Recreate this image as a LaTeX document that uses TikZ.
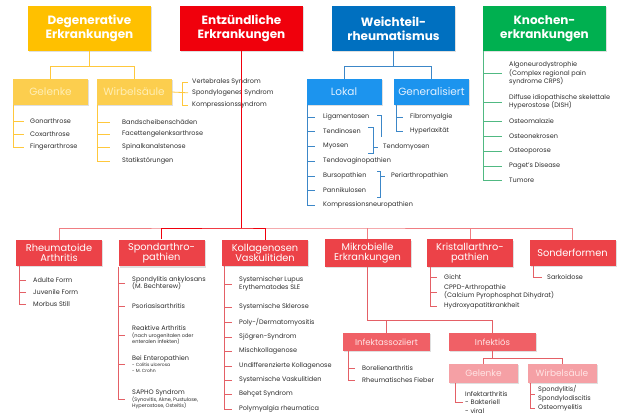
\documentclass[tikz,border=0pt]{standalone}
\usepackage{fontspec}
\setmainfont{Poppins}
\usetikzlibrary{shadows}

\definecolor{gelbdunkel}{RGB}{255,192,0}
\definecolor{gelbhell}{RGB}{252,206,78}
\definecolor{gelbtext}{RGB}{255,238,180}
\definecolor{gelblinie}{RGB}{255,200,60}
\definecolor{rotdunkel}{RGB}{240,0,12}
\definecolor{rotbox}{RGB}{236,66,72}
\definecolor{rotmittel}{RGB}{240,96,102}
\definecolor{rothell}{RGB}{245,160,165}
\definecolor{rottext}{RGB}{255,228,228}
\definecolor{rotlinie}{RGB}{228,96,102}
\definecolor{rotbalken}{RGB}{240,125,130}
\definecolor{blaudunkel}{RGB}{0,112,192}
\definecolor{blauhell}{RGB}{28,148,238}
\definecolor{blautext}{RGB}{225,240,255}
\definecolor{blaulinie}{RGB}{60,135,200}
\definecolor{gruen}{RGB}{0,176,80}
\definecolor{gruenlinie}{RGB}{80,185,130}
\definecolor{textgrau}{RGB}{45,45,45}

\newcommand{\kleinschrift}{\fontsize{5}{6}\selectfont}
\newcommand{\kleinerschrift}{\fontsize{4.5}{5.5}\selectfont}

\begin{document}
\begin{tikzpicture}[x=1pt, y=-1pt,
    schatten/.style={drop shadow={shadow xshift=1pt, shadow yshift=-1.2pt, opacity=0.25}},
    haupt/.style={schatten, minimum width=123pt, minimum height=45pt, text=white, align=center, font=\fontsize{12}{14}\selectfont\bfseries},
    unter/.style={schatten, minimum width=75pt, minimum height=26pt, font=\fontsize{10.5}{12}\selectfont},
    kat/.style={schatten, fill=rotbox, minimum width=86pt, minimum height=26pt, text=white, align=center, font=\fontsize{9.8}{10.5}\selectfont},
    infekt/.style={schatten, fill=rotmittel, minimum width=87pt, minimum height=18pt, text=rottext, font=\fontsize{8.5}{10}\selectfont},
    infektunter/.style={schatten, fill=rothell, minimum width=69pt, minimum height=19pt, text=rottext, font=\fontsize{9}{10}\selectfont},
    eintrag/.style={anchor=west, inner sep=0pt, align=left, text=textgrau, font=\fontsize{6.5}{8.5}\selectfont},
    gl/.style={draw=gelblinie, line width=0.8pt},
    bl/.style={draw=blaulinie, line width=0.7pt},
    grl/.style={draw=gruenlinie, line width=0.7pt},
    rl/.style={draw=rotlinie, line width=0.7pt},
    rlhell/.style={draw=rotbalken, line width=0.8pt},
    rldunkel/.style={draw=rotdunkel, line width=0.8pt}]

    \fill[white] (0,0) rectangle (629,418);
    \useasboundingbox (0,0) rectangle (629,418);

    % Knoten
    \node[haupt, fill=gelbdunkel] (deg) at (89.5,28.5) {Degenerative\\Erkrankungen};
    \node[haupt, fill=rotdunkel] (entz) at (241.5,28.5) {Entzündliche\\Erkrankungen};
    \node[haupt, fill=blaudunkel] (weich) at (393.5,28.5) {Weichteil-\\rheumatismus};
    \node[haupt, fill=gruen] (kno) at (544.5,28.5) {Knochen-\\erkrankungen};

    \node[unter, fill=gelbhell, text=gelbtext] (gel) at (50.5,92) {Gelenke};
    \node[unter, fill=gelbhell, text=gelbtext] (wir) at (134,92) {Wirbelsäule};
    \node[unter, fill=blauhell, text=blautext] (lok) at (344,92) {Lokal};
    \node[unter, fill=blauhell, text=blautext] (gen) at (431.5,92) {Generalisiert};

    \node[kat] (rhe) at (59,253) {Rheumatoide\\Arthritis};
    \node[kat] (spo) at (161.5,253) {Spondarthro-\\pathien};
    \node[kat] (kol) at (265,253) {Kollagenosen\\Vaskulitiden};
    \node[kat] (mik) at (367.5,253) {Mikrobielle\\Erkrankungen};
    \node[kat] (kri) at (470,253) {Kristallarthro-\\pathien};
    \node[kat] (son) at (572.5,253) {Sonderformen};

    \node[infekt] (ias) at (386.5,342) {Infektassoziiert};
    \node[infekt] (ifs) at (492.5,342) {Infektiös};
    \node[infektunter] (igl) at (483.5,373.5) {Gelenke};
    \node[infektunter] (iwi) at (562,373.5) {Wirbelsäule};

    % Eintraege
    \node[eintrag] (gon) at (30,121) {Gonarthrose};
    \node[eintrag] (cox) at (30,134) {Coxarthrose};
    \node[eintrag] (fin) at (30,147) {Fingerarthrose};

    \node[eintrag] (ban) at (122,122) {Bandscheibenschäden};
    \node[eintrag] (fac) at (122,134) {Facettengelenksarthrose};
    \node[eintrag] (spi) at (122,147) {Spinalkanalstenose};
    \node[eintrag] (sta) at (122,161) {Statikstörungen};

    \node[eintrag] (ver) at (192,82) {Vertebrales Syndrom};
    \node[eintrag] (spg) at (192,93) {Spondylogenes Syndrom};
    \node[eintrag] (kom) at (192,105) {Kompressionssyndrom};

    \node[eintrag] (lig) at (323,117) {Ligamentosen};
    \node[eintrag] (ten) at (323,131) {Tendinosen};
    \node[eintrag] (myo) at (323,146) {Myosen};
    \node[eintrag] (tva) at (323,161) {Tendovaginopathien};
    \node[eintrag] (bur) at (323,176) {Bursopathien};
    \node[eintrag] (pan) at (323,190) {Pannikulosen};
    \node[eintrag] (kne) at (323,205) {Kompressionsneuropathien};
    \node[eintrag] (tmy) at (383,147) {Tendomyosen};
    \node[eintrag] (per) at (391,176) {Periarthropathien};

    \node[eintrag] (fib) at (410,117) {Fibromyalgie};
    \node[eintrag] (hyp) at (410,131) {Hyperlaxität};

    \node[eintrag] (alg) at (509,73.5) {Algoneurodystrophie\\(Complex regional pain\\syndrome CRPS)};
    \node[eintrag] (dis) at (509,102) {Diffuse idiopathische skelettale\\Hyperostose (DISH)};
    \node[eintrag] (oma) at (509,121) {Osteomalazie};
    \node[eintrag] (one) at (509,136) {Osteonekrosen};
    \node[eintrag] (opo) at (509,151) {Osteoporose};
    \node[eintrag] (pag) at (509,166) {Paget's Disease};
    \node[eintrag] (tum) at (509,180) {Tumore};

    \node[eintrag] (adu) at (33,280) {Adulte Form};
    \node[eintrag] (juv) at (33,292) {Juvenile Form};
    \node[eintrag] (mst) at (33,304) {Morbus Still};

    \node[eintrag] (spa) at (132,283) {Spondylitis ankylosans\\[-1pt](M. Bechterew)};
    \node[eintrag] (pso) at (132,306) {Psoriasisarthritis};
    \node[eintrag] (rea) at (132,335) {Reaktive Arthritis\\[-2pt]\kleinschrift (nach urogenitalen oder\\[-2.5pt]\kleinschrift enteralen Infekten)};
    \node[eintrag] (ent) at (132,364) {Bei Enteropathien\\[-2pt]\kleinerschrift - Colitis ulcerosa\\[-3pt]\kleinerschrift - M. Crohn};
    \node[eintrag] (sap) at (132,399) {SAPHO Syndrom\\[-2pt]\kleinschrift (Synovitis, Akne, Pustulose,\\[-2.5pt]\kleinschrift Hyperostose, Osteitis)};

    \node[eintrag] (sle) at (239,284) {Systemischer Lupus\\Erythematodes SLE};
    \node[eintrag] (skl) at (239,307) {Systemische Sklerose};
    \node[eintrag] (pdm) at (239,322) {Poly-/Dermatomyositis};
    \node[eintrag] (sjo) at (239,337) {Sjögren-Syndrom};
    \node[eintrag] (mis) at (239,351) {Mischkollagenose};
    \node[eintrag] (und) at (239,366) {Undifferenzierte Kollagenose};
    \node[eintrag] (vas) at (239,380) {Systemische Vaskulitiden};
    \node[eintrag] (beh) at (239,394) {Behçet Syndrom};
    \node[eintrag] (pmr) at (239,409) {Polymyalgia rheumatica};

    \node[eintrag] (gic) at (444,277) {Gicht};
    \node[eintrag] (cpp) at (444,292) {CPPD-Arthropathie\\(Calcium Pyrophosphat Dihydrat)};
    \node[eintrag] (hya) at (444,306) {Hydroxyapatitkrankheit};

    \node[eintrag] (sar) at (547,277) {Sarkoidose};

    \node[eintrag] (bor) at (362,368) {Borelienarthritis};
    \node[eintrag] (rhf) at (362,380) {Rheumatisches Fieber};

    \node[eintrag] (iar) at (465,402.5) {Infektarthritis\\- Bakteriell\\- viral};
    \node[eintrag] (spd) at (538,394) {Spondylitis/\\Spondylodiscitis};
    \node[eintrag] (ost) at (538,408) {Osteomyelitis};

    % Linien
    \coordinate (gelL) at (13.5,0);
    \coordinate (wirL) at (97.5,0);
    \coordinate (wirR) at (182,0);
    \coordinate (lokL) at (307.5,0);
    \coordinate (genL) at (396,0);
    \coordinate (knoL) at (483.5,0);
    \coordinate (rheL) at (19,0);
    \coordinate (spoL) at (118.5,0);
    \coordinate (kolL) at (224.5,0);
    \coordinate (kriL) at (430,0);
    \coordinate (sonL) at (533,0);
    \coordinate (iasL) at (348,0);
    \coordinate (iglL) at (455,0);
    \coordinate (iwiL) at (530,0);
    \coordinate (balken) at (241.5,228);

    \draw[gl] (deg.south) -- ++(0,15) -| (gel.north);
    \draw[gl] (deg.south) -- ++(0,15) -| (wir.north);
    \draw[gl, shorten >=6pt] (gel.south -| gelL) |- (fin.west);
    \draw[gl, shorten >=6pt] (gon.west -| gelL) -- (gon.west);
    \draw[gl, shorten >=6pt] (cox.west -| gelL) -- (cox.west);
    \draw[gl, shorten >=12pt] (wir.south -| wirL) |- (sta.west);
    \draw[gl, shorten >=12pt] (ban.west -| wirL) -- (ban.west);
    \draw[gl, shorten >=12pt] (fac.west -| wirL) -- (fac.west);
    \draw[gl, shorten >=12pt] (spi.west -| wirL) -- (spi.west);
    \draw[gl, shorten >=4pt] (wir.east) -- (spg.west);
    \draw[gl, shorten >=4pt] (ver.west -| wirR) |- (kom.west);
    \draw[gl, shorten >=4pt] (ver.west -| wirR) -- (ver.west);

    \draw[bl] (weich.south) -- ++(0,15) -| (lok.north);
    \draw[bl] (weich.south) -- ++(0,15) -| (gen.north);
    \draw[bl, shorten >=8pt] (lok.south -| lokL) |- (kne.west);
    \draw[bl, shorten >=8pt] (lig.west -| lokL) -- (lig.west);
    \draw[bl, shorten >=8pt] (ten.west -| lokL) -- (ten.west);
    \draw[bl, shorten >=8pt] (myo.west -| lokL) -- (myo.west);
    \draw[bl, shorten >=8pt] (tva.west -| lokL) -- (tva.west);
    \draw[bl, shorten >=8pt] (bur.west -| lokL) -- (bur.west);
    \draw[bl, shorten >=8pt] (pan.west -| lokL) -- (pan.west);
    \draw[bl] (377,115) -| (381,137);
    \draw[bl] (368,127) -| (373,153) -- (368,153);
    \draw[bl, shorten >=5pt] (tmy.west -| 373,0) -- (tmy.west);
    \draw[bl] (377,171) -| (380,197) -- (377,197);
    \draw[bl, shorten >=6pt] (per.west -| 380,0) -- (per.west);
    \draw[bl, shorten >=7pt] (gen.south -| genL) |- (hyp.west);
    \draw[bl, shorten >=7pt] (fib.west -| genL) -- (fib.west);

    \draw[grl, shorten >=7pt] (kno.south -| knoL) |- (tum.west);
    \draw[grl, shorten >=7pt] (alg.west -| knoL) -- (alg.west);
    \draw[grl, shorten >=7pt] (dis.west -| knoL) -- (dis.west);
    \draw[grl, shorten >=7pt] (oma.west -| knoL) -- (oma.west);
    \draw[grl, shorten >=7pt] (one.west -| knoL) -- (one.west);
    \draw[grl, shorten >=7pt] (opo.west -| knoL) -- (opo.west);
    \draw[grl, shorten >=7pt] (pag.west -| knoL) -- (pag.west);

    \draw[rlhell] (rhe.north) |- (balken) -| (son.north);
    \draw[rlhell] (mik.north) -- (mik.north |- balken);
    \draw[rlhell] (kri.north) -- (kri.north |- balken);
    \draw[rldunkel] (spo.north) |- (balken) -| (kol.north);
    \draw[rldunkel] (entz.south) -- (balken);

    \draw[rl, shorten >=7pt] (rhe.south -| rheL) |- (mst.west);
    \draw[rl, shorten >=7pt] (adu.west -| rheL) -- (adu.west);
    \draw[rl, shorten >=7pt] (juv.west -| rheL) -- (juv.west);

    \draw[rl, shorten >=7pt] (spo.south -| spoL) |- (sap.west);
    \draw[rl, shorten >=7pt] (spa.west -| spoL) -- (spa.west);
    \draw[rl, shorten >=7pt] (pso.west -| spoL) -- (pso.west);
    \draw[rl, shorten >=7pt] (rea.west -| spoL) -- (rea.west);
    \draw[rl, shorten >=7pt] (ent.west -| spoL) -- (ent.west);

    \draw[rl, shorten >=7pt] (kol.south -| kolL) |- (pmr.west);
    \draw[rl, shorten >=7pt] (sle.west -| kolL) -- (sle.west);
    \draw[rl, shorten >=7pt] (skl.west -| kolL) -- (skl.west);
    \draw[rl, shorten >=7pt] (pdm.west -| kolL) -- (pdm.west);
    \draw[rl, shorten >=7pt] (sjo.west -| kolL) -- (sjo.west);
    \draw[rl, shorten >=7pt] (mis.west -| kolL) -- (mis.west);
    \draw[rl, shorten >=7pt] (und.west -| kolL) -- (und.west);
    \draw[rl, shorten >=7pt] (vas.west -| kolL) -- (vas.west);
    \draw[rl, shorten >=7pt] (beh.west -| kolL) -- (beh.west);

    \draw[rl, shorten >=7pt] (kri.south -| kriL) |- (hya.west);
    \draw[rl, shorten >=7pt] (gic.west -| kriL) -- (gic.west);
    \draw[rl, shorten >=7pt] (cpp.west -| kriL) -- (cpp.west);

    \draw[rl, shorten >=5pt] (son.south -| sonL) |- (sar.west);

    \draw[rl] (mik.south) -- ++(0,54) -| (ifs.north);
    \draw[rl] (ias.north) -- ++(0,-13);
    \draw[rl, shorten >=7pt] (ias.south -| iasL) |- (rhf.west);
    \draw[rl, shorten >=7pt] (bor.west -| iasL) -- (bor.west);

    \draw[rl] (ifs.south) -- ++(0,7) -| (igl.north);
    \draw[rl] (ifs.south) -- ++(0,7) -| (iwi.north);
    \draw[rl, shorten >=2pt] (igl.south -| iglL) |- (iar.west);
    \draw[rl, shorten >=3pt] (iwi.south -| iwiL) |- (ost.west);
    \draw[rl, shorten >=3pt] (spd.west -| iwiL) -- (spd.west);
\end{tikzpicture}
\end{document}
